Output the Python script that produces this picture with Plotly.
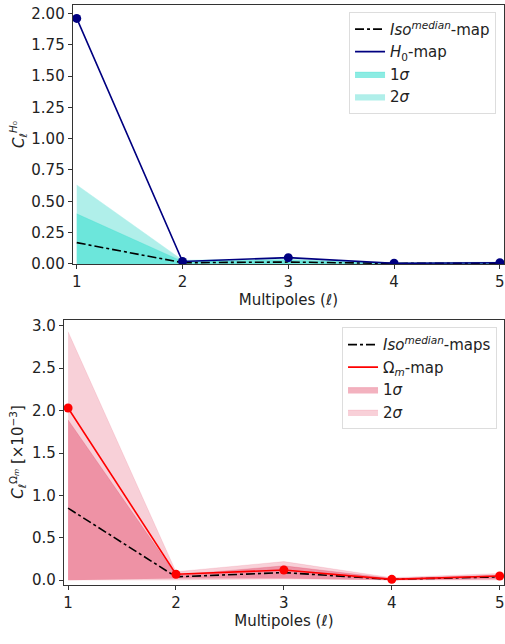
import plotly.graph_objects as go

ell = [1, 2, 3, 4, 5]

# Top panel (H0)
h0_map = [1.96, 0.02, 0.05, 0.005, 0.01]
h0_iso = [0.17, 0.01, 0.015, 0.004, 0.005]
h0_1s_lo = [0.0, 0.0, 0.0, 0.0, 0.0]
h0_1s_hi = [0.40, 0.02, 0.03, 0.006, 0.008]
h0_2s_lo = [0.0, 0.0, 0.0, 0.0, 0.0]
h0_2s_hi = [0.63, 0.03, 0.04, 0.01, 0.015]

# Bottom panel (Omega_m) [x1e-3]
om_map = [2.03, 0.07, 0.12, 0.01, 0.05]
om_iso = [0.85, 0.04, 0.09, 0.01, 0.04]
om_1s_lo = [0.0, 0.02, 0.02, 0.0, 0.01]
om_1s_hi = [1.89, 0.06, 0.17, 0.02, 0.06]
om_2s_lo = [0.0, 0.0, 0.01, 0.0, 0.0]
om_2s_hi = [2.93, 0.10, 0.22, 0.03, 0.08]

FONT = "DejaVu Sans"
FS = 15
fig = go.Figure()


def add_panel(xa, ya, leg, lo2, hi2, lo1, hi1, iso, mp, c2, c1, lc, iso_name, map_name):
    fig.add_trace(go.Scatter(x=ell, y=lo2, mode="lines", line=dict(width=0, color=c2),
                             showlegend=False, hoverinfo="skip", xaxis=xa, yaxis=ya))
    fig.add_trace(go.Scatter(x=ell, y=hi2, mode="lines", line=dict(width=0.5, color=c2),
                             fill="tonexty", fillcolor=c2, name="2<i>σ</i>", legend=leg,
                             legendrank=4, xaxis=xa, yaxis=ya))
    fig.add_trace(go.Scatter(x=ell, y=lo1, mode="lines", line=dict(width=0, color=c1),
                             showlegend=False, hoverinfo="skip", xaxis=xa, yaxis=ya))
    fig.add_trace(go.Scatter(x=ell, y=hi1, mode="lines", line=dict(width=0.5, color=c1),
                             fill="tonexty", fillcolor=c1, name="1<i>σ</i>", legend=leg,
                             legendrank=3, xaxis=xa, yaxis=ya))
    fig.add_trace(go.Scatter(x=ell, y=iso, mode="lines", line=dict(color="black", width=1.6, dash="dashdot"),
                             name=iso_name, legend=leg, legendrank=1, xaxis=xa, yaxis=ya))
    fig.add_trace(go.Scatter(x=ell, y=mp, mode="lines+markers", line=dict(color=lc, width=1.6),
                             marker=dict(size=9, color=lc), showlegend=False, xaxis=xa, yaxis=ya))
    # legend-only entry (line without marker, as in the reference)
    fig.add_trace(go.Scatter(x=[None], y=[None], mode="lines", line=dict(color=lc, width=1.6),
                             name=map_name, legend=leg, legendrank=2, xaxis=xa, yaxis=ya))


add_panel("x", "y", "legend", h0_2s_lo, h0_2s_hi, h0_1s_lo, h0_1s_hi, h0_iso, h0_map,
          "rgb(176,239,234)", "rgba(64,224,208,0.6)", "#000080",
          "<i>Iso</i><sup><i>median</i></sup>-map", "<i>H</i><sub>0</sub>-map")
add_panel("x2", "y2", "legend2", om_2s_lo, om_2s_hi, om_1s_lo, om_1s_hi, om_iso, om_map,
          "rgba(220,20,60,0.2)", "rgba(220,20,60,0.33)", "#ff0000",
          "<i>Iso</i><sup><i>median</i></sup>-maps", "Ω<sub><i>m</i></sub>-map")

axis_common = dict(showline=True, linecolor="#333", linewidth=1, mirror=True, ticks="outside",
                   ticklen=4, tickcolor="#333", showgrid=False, zeroline=False,
                   tickfont=dict(family=FONT, size=FS, color="#222"))

legend_common = dict(bgcolor="rgba(255,255,255,0.8)", bordercolor="#ddd", borderwidth=1,
                     font=dict(family=FONT, size=FS, color="#222"), xanchor="right", yanchor="top",
                     tracegroupgap=0, itemwidth=30, traceorder="normal")

fig.update_layout(
    width=505, height=644, margin=dict(l=0, r=0, t=0, b=0),
    paper_bgcolor="white", plot_bgcolor="white",
    font=dict(family=FONT, size=FS, color="#222"),
    xaxis=dict(domain=[72 / 505, 1.0], range=[0.962, 5.039], tickvals=ell, anchor="y",
               title=dict(text="Multipoles (<i>ℓ</i>)", standoff=3, font=dict(family=FONT, size=15)),
               **axis_common),
    yaxis=dict(domain=[0.5862, 0.9953], range=[0, 2.067], tickvals=[0, 0.25, 0.5, 0.75, 1.0, 1.25, 1.5, 1.75, 2.0],
               tickformat=".2f", anchor="x",
               title=dict(text="<i>C</i><sub><i>ℓ</i></sub><sup><i>H</i>₀</sup>", standoff=3,
                          font=dict(family=FONT, size=15)),
               **axis_common),
    xaxis2=dict(domain=[63 / 505, 1.0], range=[0.960, 5.04], tickvals=ell, anchor="y2",
                title=dict(text="Multipoles (<i>ℓ</i>)", standoff=3, font=dict(family=FONT, size=15)),
                **axis_common),
    yaxis2=dict(domain=[0.0797, 0.4984], range=[-0.051, 3.074], tickvals=[0, 0.5, 1.0, 1.5, 2.0, 2.5, 3.0],
                tickformat=".1f", anchor="x2",
                title=dict(text="<i>C</i><sub><i>ℓ</i></sub><sup>Ω<sub><i>m</i></sub></sup> [×10<sup>−3</sup>]",
                           standoff=4, font=dict(family=FONT, size=15)),
                **axis_common),
    legend=dict(x=497 / 505, y=(644 - 10) / 644, **legend_common),
    legend2=dict(x=498 / 505, y=(644 - 331) / 644, **legend_common),
)

fig.write_html("out.html")
